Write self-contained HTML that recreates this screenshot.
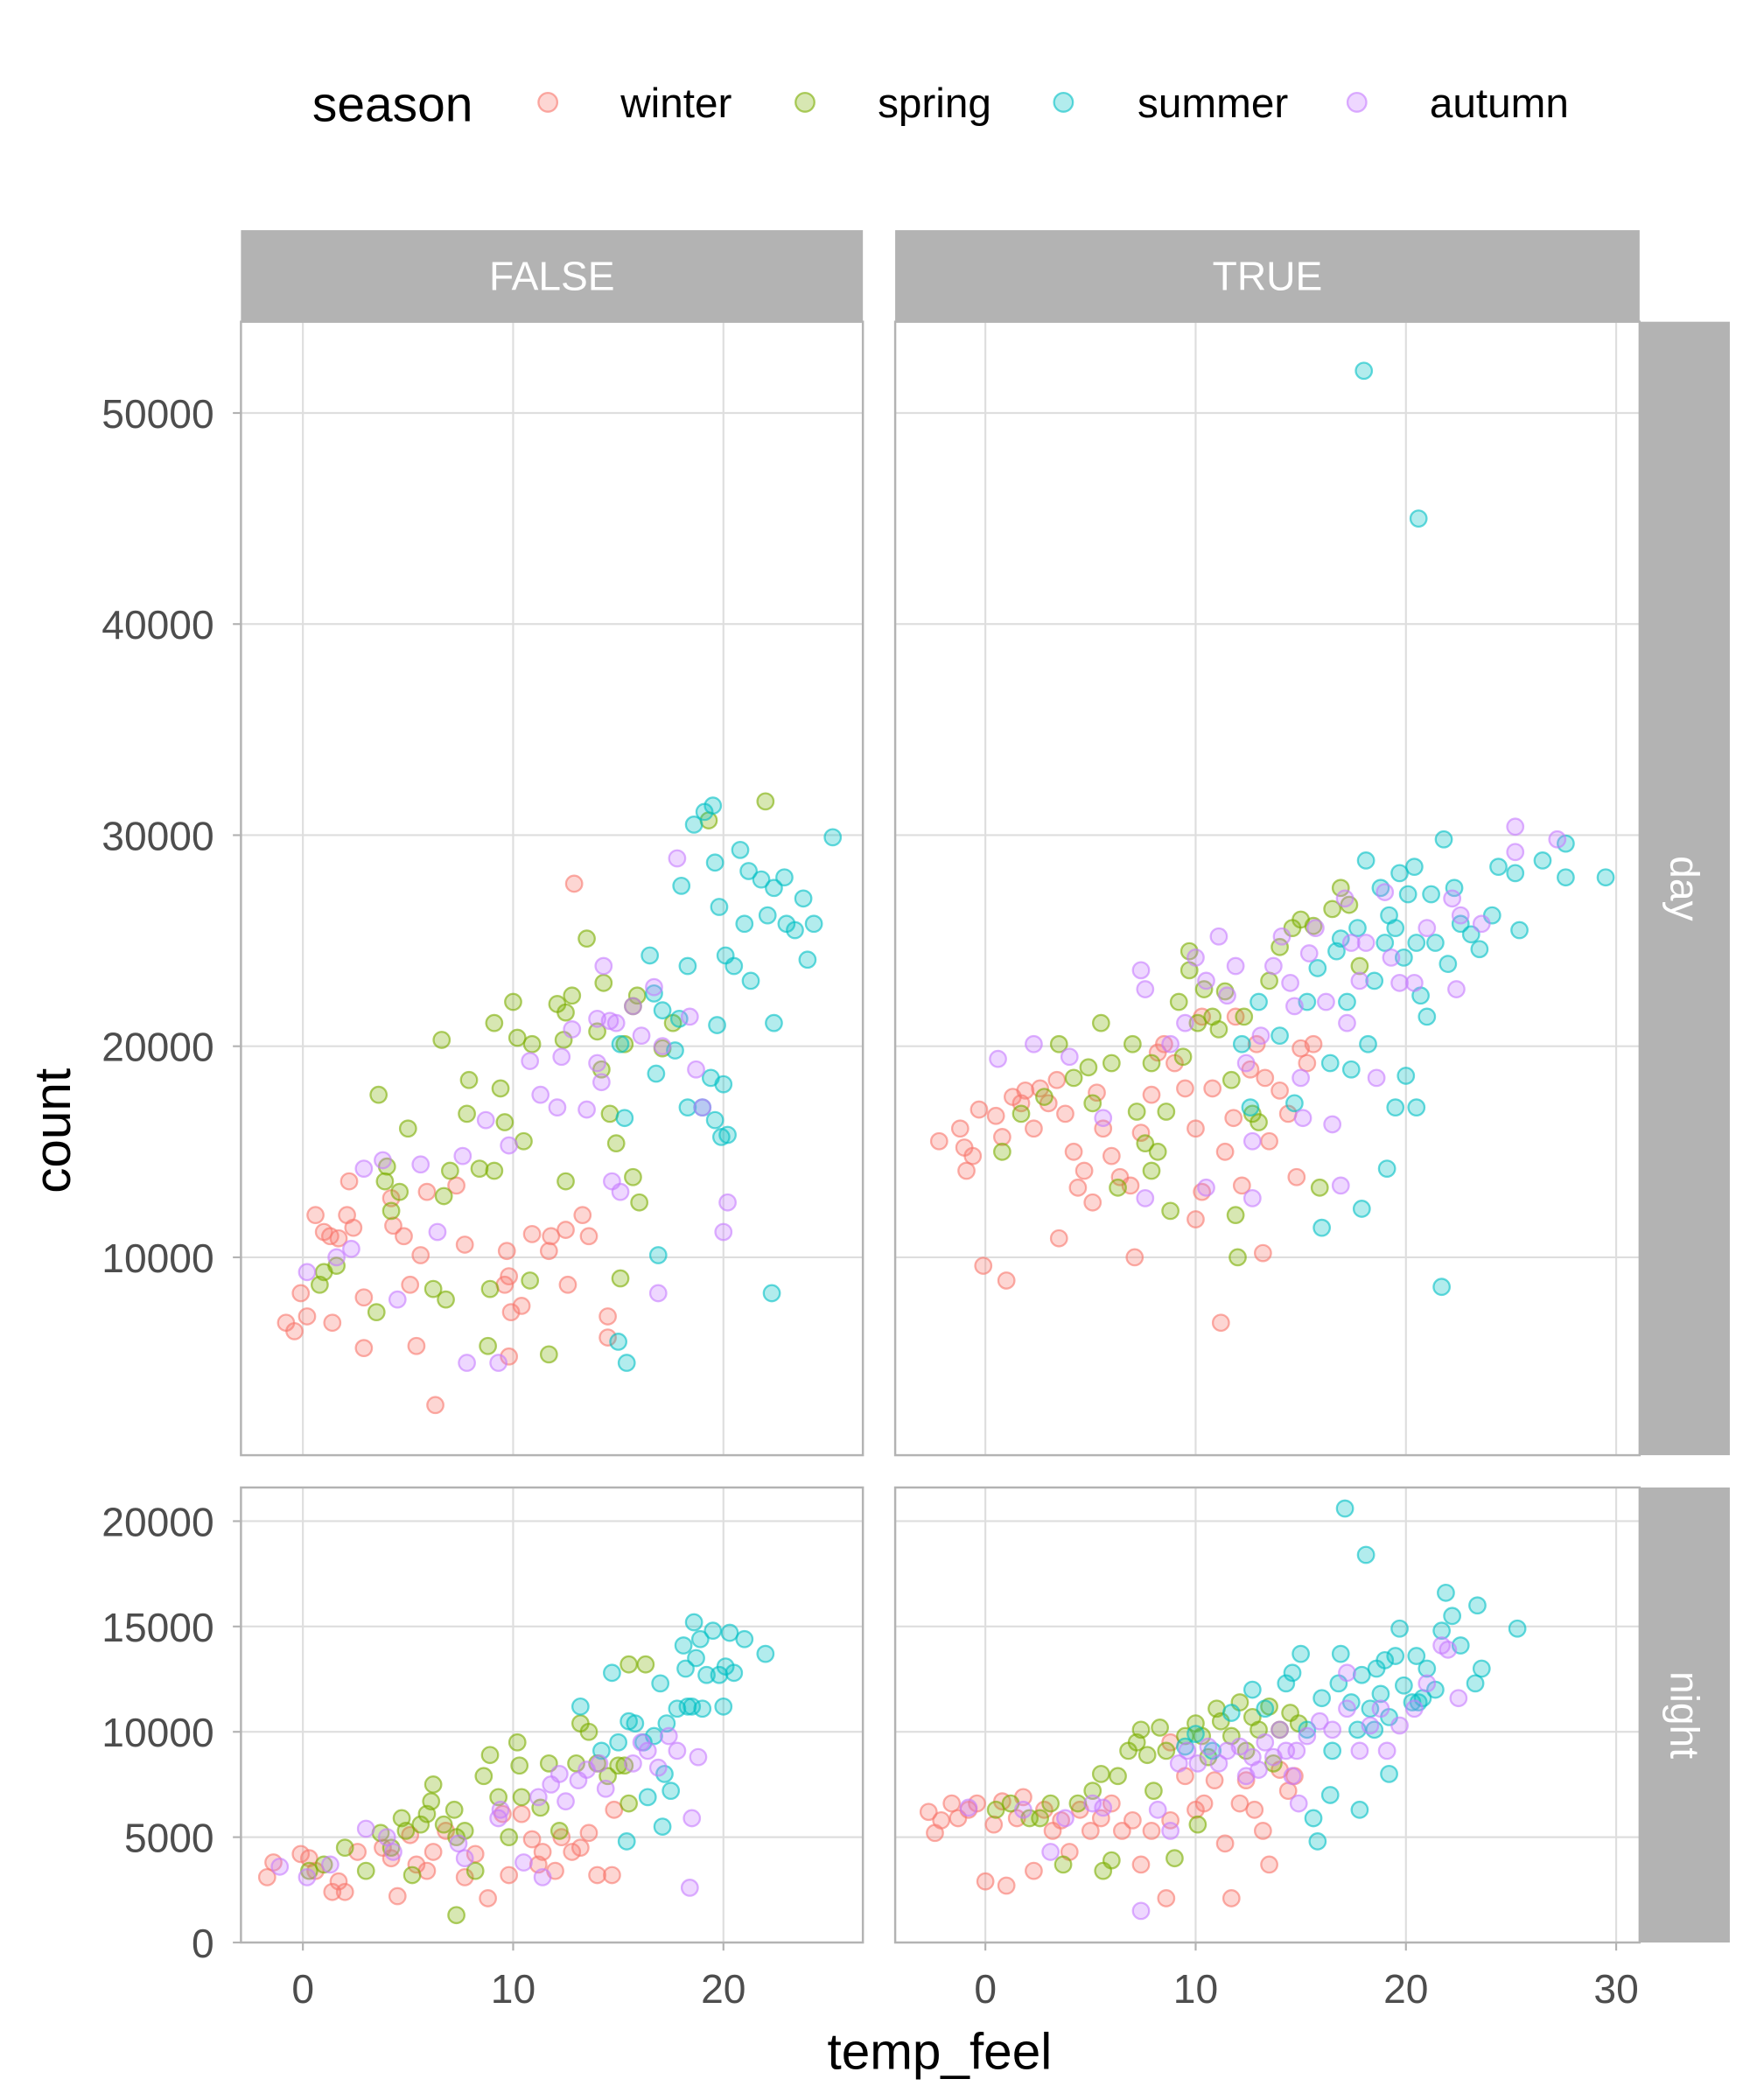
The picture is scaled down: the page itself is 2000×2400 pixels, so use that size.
<!DOCTYPE html>
<html><head><meta charset="utf-8">
<style>
html,body{margin:0;padding:0;background:#fff;}
svg{display:block;font-family:"Liberation Sans Narrow","Liberation Sans",sans-serif;}
</style></head>
<body>
<svg id="chart" width="2000" height="2400" viewBox="0 0 1300 1560" xmlns="http://www.w3.org/2000/svg">
<g id="legend">
  <text x="232" y="90" font-size="37" fill="#000">season</text>
</g>
<g id="panels"></g>
<text x="698" y="1537" font-size="38" text-anchor="middle" fill="#000">temp_feel</text>
<text transform="translate(52,840) rotate(-90)" font-size="38" text-anchor="middle" fill="#000">count</text>
</svg>
<script>
const seasons = ["winter","spring","summer","autumn"];
const seasonColors = ["#F8766D","#7CAE00","#00BFC4","#C77CFF"];
const xTicks = [0,10,20,30];
const dayYTicks = [10000,20000,30000,40000,50000];
const nightYTicks = [0,5000,10000,15000,20000];

// FALSE / day
const falseDayWinter = [[-0.8,6900],[-0.4,6500],[-0.1,8300],[0.2,7200],[0.6,12000],[1,11200],[1.3,11000],[1.7,10900],[2.1,12000],[2.4,11400],[2.2,13600],[1.4,6900],[2.9,8100],[2.9,5700],[4.2,12800],[4.3,11500],[4.8,11000],[5.1,8700],[5.4,5800],[5.9,13100],[5.6,10100],[6.3,3000],[7.3,13400],[7.7,10600],[9.6,8700],[9.7,10300],[9.9,7400],[10.4,7700],[10.9,11100],[11.7,10300],[11.8,11000],[12.5,11300],[12.6,8700],[12.9,27700],[13.3,12000],[13.6,11000],[14.5,7200],[14.5,6200],[9.8,5300],[9.8,9100]];
const falseDaySpring = [[1,9300],[0.8,8700],[1.6,9600],[3.6,17700],[4,14300],[3.9,13600],[4.2,12200],[4.6,13100],[5,16100],[3.5,7400],[6.6,20300],[6.7,12900],[7,14100],[6.8,8000],[6.2,8500],[7.9,18400],[7.8,16800],[8.4,14200],[8.9,8500],[9.1,14100],[8.8,5800],[9.1,21100],[9.4,18000],[9.6,16400],[10,22100],[10.2,20400],[10.5,15500],[10.9,20100],[10.8,8900],[11.7,5400],[12.1,22000],[12.4,20300],[12.5,21600],[12.8,22400],[12.5,13600],[13.5,25100],[14,20700],[14.3,23000],[14.6,16800],[14.9,15400],[15.1,9000],[15.3,20100],[15.7,21900],[15.9,22400],[15.7,13800],[16,12600],[17.1,19900],[17.6,21100],[19.3,30700],[22,31600],[14.2,18900]];
const falseDaySummer = [[15,6000],[15.4,5000],[15.3,16600],[15.1,20100],[16.5,24300],[16.7,22500],[16.9,10100],[16.8,18700],[17.1,21700],[17.7,19800],[17.9,21300],[18,27600],[18.3,23800],[18.6,30500],[19.1,31100],[19.5,31400],[19.6,28700],[19.8,26600],[19.7,21000],[19.4,18500],[19,17100],[18.3,17100],[19.6,16500],[19.9,15700],[20.2,15800],[20,18200],[20.1,24300],[20.5,23800],[20.8,29300],[21,25800],[21.2,28300],[21.8,27900],[22.1,26200],[22.4,21100],[22.4,27500],[22.9,28000],[23,25800],[23.4,25500],[23.8,27000],[24,24100],[24.3,25800],[21.3,23100],[25.2,29900],[22.3,8300]];
const falseDayAutumn = [[0.2,9300],[1.6,10000],[2.3,10400],[2.9,14200],[3.8,14600],[4.5,8000],[5.6,14400],[6.4,11200],[7.6,14800],[7.8,5000],[8.7,16500],[9.3,5000],[9.8,15300],[10.8,19300],[11.3,17700],[12.1,17100],[12.3,19500],[12.8,20800],[13.5,17000],[14,21300],[14,19200],[14.2,18300],[14.3,23800],[14.6,21200],[14.7,13600],[15.1,13100],[15.7,21900],[16.1,20500],[16.7,22800],[17.1,20000],[16.9,8300],[17.8,28900],[18.4,21400],[18.7,18900],[19,17100],[20,11200],[20.2,12600],[14.9,21100]];

// TRUE / day
const trueDayWinter = [[-2.2,15500],[-1.2,16100],[-1,15200],[-0.9,14100],[-0.6,14800],[-0.3,17000],[-0.1,9600],[1,8900],[0.5,16700],[0.8,15700],[1.3,17600],[1.7,17300],[1.9,17900],[2.3,16100],[2.6,18000],[3,17300],[3.4,18400],[3.5,10900],[3.8,16800],[4.2,15000],[4.4,13300],[4.7,14100],[5.1,12600],[5.3,17800],[5.6,16100],[6,14800],[6.4,13800],[6.9,13400],[7.1,10000],[7.4,15900],[7.9,17700],[8.2,19700],[8.5,20100],[9,19200],[9.5,18000],[10,16100],[10.3,13100],[10,11800],[10.8,18000],[11.2,6900],[11.4,15000],[11.8,16600],[12.2,13400],[12.6,18900],[12.9,20100],[13.2,10200],[13.5,15500],[14,17900],[14.4,16800],[14.8,13800],[15,19900],[15.3,19200],[15.6,20100],[13.3,18500],[10.3,21400],[11.9,21400]];
const trueDaySpring = [[0.8,15000],[1.7,16800],[2.8,17600],[3.5,20100],[4.2,18500],[4.9,19000],[5.1,17300],[5.5,21100],[6,19200],[6.3,13300],[7,20100],[7.2,16900],[7.6,15400],[7.9,14100],[8.2,15000],[8.6,16900],[8.8,12200],[9.2,22100],[9.4,19500],[9.7,23600],[10.1,21100],[10.4,22700],[10.8,21400],[11.1,20800],[11.4,22600],[11.7,18400],[11.9,12000],[12,10000],[12.7,16800],[13,16400],[13.5,23100],[14,24700],[14.6,25600],[15,26000],[15.6,25700],[15.9,13300],[16.5,26500],[16.9,27500],[17.3,26700],[17.8,23800],[9.7,24500],[12.3,21400],[7.9,19200]];
const trueDaySummer = [[18,52000],[20.6,45000],[12.2,20100],[12.6,17100],[13,22100],[14,20500],[14.7,17300],[15.3,22100],[15.8,23700],[16,11400],[16.4,19200],[16.7,24500],[16.9,25100],[17.2,22100],[17.4,18900],[17.7,25600],[17.9,12300],[18.1,28800],[18.5,23100],[18.8,27500],[19,24900],[19.1,14200],[19.2,26200],[19.5,17100],[19.7,28200],[20,18600],[20.1,27200],[20.4,28500],[20.5,24900],[20.7,22400],[20.5,17100],[21,21400],[21.2,27200],[21.4,24900],[21.7,8600],[21.8,29800],[22,23900],[22.3,27500],[22.6,25800],[23.1,25300],[23.5,24600],[24.1,26200],[24.4,28500],[25.2,28200],[25.4,25500],[26.5,28800],[27.6,29600],[27.6,28000],[29.5,28000],[18.2,20100],[19.9,24200],[19.5,25600]];
const trueDayAutumn = [[0.6,19400],[2.3,20100],[4,19500],[5.6,16600],[7.4,23600],[7.6,22700],[8.8,20100],[9.5,21100],[10,24200],[10.5,23100],[11.1,25200],[11.5,22400],[11.9,23800],[12.4,19200],[12.7,12800],[13.1,20500],[13.7,23800],[14.1,25200],[14.5,23000],[14.7,21900],[15,18500],[15.1,16600],[15.4,24400],[15.7,25600],[16.2,22100],[16.5,16300],[16.9,13400],[17.1,27000],[17.4,24900],[17.8,23100],[18.1,24900],[18.6,18500],[19,27300],[19.3,24200],[19.7,23000],[20.4,23000],[21,25600],[22.2,27000],[22.6,26200],[23.6,25800],[25.2,30400],[25.2,29200],[27.2,29800],[7.6,12800],[10.5,13300],[12.7,15500],[22.4,22700],[17.2,21100]];

// FALSE / night
const falseNightWinter = [[-1.7,3100],[-1.4,3800],[-0.1,4200],[0.3,4000],[0.6,3400],[1.4,2400],[1.7,2900],[2,2400],[2.6,4300],[3.8,4500],[4.2,4000],[4.5,2200],[5.1,5100],[5.4,3700],[5.9,3400],[6.2,4300],[6.8,5300],[7.7,3100],[8.2,4200],[8.8,2100],[9.5,6100],[9.8,3200],[10.4,6100],[10.9,4900],[11.2,3700],[11.4,4300],[12,3400],[12.3,5000],[12.8,4300],[13.2,4500],[13.6,5200],[14,3200],[14.7,3200],[14.8,6300]];
const falseNightSpring = [[0.3,3400],[1,3700],[2,4500],[3,3400],[3.7,5200],[4.2,4500],[4.7,5900],[4.9,5300],[5.2,3200],[5.6,5600],[5.9,6100],[6.1,6700],[6.2,7500],[6.7,5600],[7.2,6300],[7.3,1300],[7.3,5000],[7.7,5300],[8.2,3400],[8.6,7900],[8.9,8900],[9.3,6900],[9.8,5000],[10.2,9500],[10.3,8400],[10.4,6900],[11.3,6400],[11.7,8500],[12.2,5300],[13,8500],[13.2,10400],[13.6,10000],[14,8500],[14.5,7900],[15,8400],[15.3,8400],[15.5,13200],[16.3,13200],[15.5,6600]];
const falseNightSummer = [[13.2,11200],[14.2,9100],[14.7,12800],[15,9500],[15.5,10500],[15.4,4800],[15.8,10400],[16.2,9500],[16.4,6900],[16.7,9800],[17,12300],[17.1,5500],[17.2,8000],[17.3,10400],[17.5,7200],[17.8,11100],[18.1,14100],[18.2,13000],[18.3,11200],[18.6,15200],[18.7,13500],[18.9,14400],[19,11100],[19.2,12700],[19.5,14800],[19.8,12700],[20,11200],[20.1,13100],[20.3,14700],[20.5,12800],[21,14400],[22,13700],[18.5,11200]];
const falseNightAutumn = [[-1.1,3600],[0.2,3100],[1.3,3700],[3,5400],[4,5000],[4.3,4300],[7.4,4700],[7.7,4000],[9.3,5900],[9.4,6300],[10.5,3800],[11.2,6900],[11.4,3100],[11.8,7500],[12.2,8000],[12.5,6700],[13.1,7700],[13.5,8200],[14.1,8500],[14.4,7300],[15.7,8500],[16.1,9500],[16.4,9100],[16.9,8300],[17.4,9800],[17.8,9100],[18.4,2600],[18.5,5900],[18.8,8800]];

// TRUE / night
const trueNightWinter = [[-2.7,6200],[-2.4,5200],[-2.1,5800],[-1.6,6600],[-1.3,5900],[-0.8,6300],[-0.4,6600],[0,2900],[0.4,5600],[0.8,6700],[1,2700],[1.5,5900],[1.8,6900],[2.3,3400],[2.8,6300],[3.2,5300],[3.6,5800],[4,4300],[4.5,6300],[5,5300],[5.5,5900],[6,6600],[6.5,5300],[7,5800],[7.4,3700],[7.9,5300],[8.6,2100],[8.8,5800],[9.5,7900],[10,6300],[10.4,6600],[10.9,7700],[11.4,4700],[11.7,2100],[12.1,6600],[12.4,7700],[12.8,6300],[13.2,5300],[13.5,3700],[14,8200],[14.4,7200],[14.7,7900],[8.8,9500]];
const trueNightSpring = [[0.5,6300],[1.2,6600],[2.1,5900],[2.6,5900],[3.1,6600],[3.7,3700],[4.4,6600],[5.1,7200],[5.5,8000],[5.6,3400],[6,3900],[6.3,7900],[6.8,9100],[7.2,9500],[7.4,10100],[7.7,8900],[8,7200],[8.3,10200],[8.6,9100],[9,4000],[9.5,9800],[10,10400],[10.3,9800],[10.6,8800],[11,11100],[11.2,10500],[11.7,9800],[12.1,11400],[12.4,9100],[12.7,10700],[13,10100],[13.5,11200],[14,10100],[14.5,10900],[14.9,10400],[13.7,8500],[10.1,5600]];
const trueNightSummer = [[9.5,9300],[10,9900],[10.8,9100],[11.7,10900],[12.7,12000],[13.3,11100],[14.3,12300],[14.6,12800],[15,13700],[15.3,10100],[15.6,5900],[15.8,4800],[16,11600],[16.4,7000],[16.5,9100],[16.8,12300],[16.9,13700],[17.1,20600],[17.4,11400],[17.7,10100],[17.8,6300],[17.9,12700],[18.1,18400],[18.3,11100],[18.6,13000],[18.8,11800],[19,13400],[19.2,10700],[19.2,8000],[19.5,13600],[19.7,14900],[19.9,12200],[20.3,11400],[20.5,13600],[20.8,11600],[21,13000],[21.4,12000],[21.7,14800],[21.9,16600],[22.2,15500],[22.6,14100],[23.3,12300],[23.4,16000],[23.6,13000],[25.3,14900],[20.6,11400],[18.5,10100]];
const trueNightAutumn = [[-0.8,6400],[1.8,6300],[3.1,4300],[3.8,5900],[5.1,6600],[5.6,6400],[7.4,1500],[8.2,6300],[8.8,5300],[9.2,8500],[9.6,9100],[10.1,8500],[10.6,9300],[11.1,8500],[11.5,9100],[12.1,9300],[12.4,7900],[12.7,8800],[13,8200],[13.3,9500],[13.7,8800],[14,10100],[14.3,9100],[14.6,7900],[14.9,6600],[15.3,9800],[15.9,10500],[16.5,10100],[17.2,11100],[17.8,9100],[18.3,10300],[18.8,11100],[19.1,9100],[19.7,10300],[20.4,11100],[21,12300],[21.7,14100],[22,13900],[22.5,11600],[17.2,12800],[14.8,9100]];

const NS = "http://www.w3.org/2000/svg";
function mk(tag, attrs, parent){ const e=document.createElementNS(NS,tag); for(const k in attrs) e.setAttribute(k,attrs[k]); parent.appendChild(e); return e; }

const svg = document.getElementById('chart');
const legend = document.getElementById('legend');
const legendX = [[407,461],[598,652],[790,845],[1008,1062]];
seasons.forEach((s,i)=>{
  const c = mk('circle',{cx:legendX[i][0],cy:76,r:7,fill:seasonColors[i],'fill-opacity':0.3,stroke:seasonColors[i],'stroke-opacity':0.6,'stroke-width':1.5},legend);
  
  
  const t = mk('text',{x:legendX[i][1],y:87,'font-size':31,fill:'#000'},legend);
  t.textContent = s;
  
  
});

// scales
const colX0 = {F:225, T:732};
const pxPerDeg = 15.62;
const rowY = {day:{y0:934, v0:10000, k:15.68/1000}, night:{y0:1443, v0:0, k:15.65/1000}};
function xScale(col, t){ return colX0[col] + t*pxPerDeg; }
function yScale(row, c){ const r=rowY[row]; return r.y0 - (c - r.v0)*r.k; }

const panelsG = document.getElementById('panels');
const panels = [
  {col:'F', row:'day', x:179, w:462, y:239, h:842, data:[falseDayWinter,falseDaySpring,falseDaySummer,falseDayAutumn], xt:[0,10,20]},
  {col:'T', row:'day', x:665, w:553, y:239, h:842, data:[trueDayWinter,trueDaySpring,trueDaySummer,trueDayAutumn], xt:xTicks},
  {col:'F', row:'night', x:179, w:462, y:1105, h:338, data:[falseNightWinter,falseNightSpring,falseNightSummer,falseNightAutumn], xt:[0,10,20]},
  {col:'T', row:'night', x:665, w:553, y:1105, h:338, data:[trueNightWinter,trueNightSpring,trueNightSummer,trueNightAutumn], xt:xTicks}
];
panels.forEach(p=>{
  const g = mk('g',{},panelsG);
  
  
  const yt = p.row==='day'?dayYTicks:nightYTicks;
  p.xt.forEach(t=>{ const x=xScale(p.col,t); const l=mk('line',{x1:x,x2:x,y1:p.y,y2:p.y+p.h,stroke:'#dedede','stroke-width':1.4},g);
      });
  yt.forEach(v=>{ const y=yScale(p.row,v); const l=mk('line',{x1:p.x,x2:p.x+p.w,y1:y,y2:y,stroke:'#dedede','stroke-width':1.4},g);
      });
  p.data.forEach((arr,si)=>{
    arr.forEach(d=>{
      const c = mk('circle',{cx:xScale(p.col,d[0]),cy:yScale(p.row,d[1]),r:6,fill:seasonColors[si],'fill-opacity':0.3,stroke:seasonColors[si],'stroke-opacity':0.6,'stroke-width':1.5},g);
      
      
    });
  });
  const b = mk('rect',{x:p.x,y:p.y,width:p.w,height:p.h,fill:'none',stroke:'#b3b3b3','stroke-width':1.6},g);
   
  if(p.col==='F'){
    yt.forEach(v=>{ const y=yScale(p.row,v);
      const tk=mk('line',{x1:p.x-6,x2:p.x,y1:y,y2:y,stroke:'#b3b3b3','stroke-width':1.4},g);
       
      const t=mk('text',{x:p.x-20,y:y+11,'font-size':30,'text-anchor':'end',fill:'#4d4d4d'},g);
      t.textContent=v;   });
  }
  if(p.row==='night'){
    p.xt.forEach(v=>{ const x=xScale(p.col,v);
      const tk=mk('line',{x1:x,x2:x,y1:p.y+p.h,y2:p.y+p.h+6,stroke:'#b3b3b3','stroke-width':1.4},g);
       
      const t=mk('text',{x:x,y:1488,'font-size':30,'text-anchor':'middle',fill:'#4d4d4d'},g);
      t.textContent=v;   });
  }
});
// strips
const strips = [
  {x:179,y:171,w:462,h:68,label:'FALSE',rot:false},
  {x:665,y:171,w:553,h:68,label:'TRUE',rot:false},
  {x:1218,y:239,w:67,h:842,label:'day',rot:true},
  {x:1218,y:1105,w:67,h:338,label:'night',rot:true}
];
strips.forEach(s=>{
  const r=mk('rect',{x:s.x,y:s.y,width:s.w,height:s.h,fill:'#b3b3b3'},svg);
  
  
  const cx=s.x+s.w/2, cy=s.y+s.h/2;
  const t=mk('text',{x:cx,y:cy,'font-size':30,'text-anchor':'middle','dominant-baseline':'central',fill:'#fff'},svg);
  if(s.rot) t.setAttribute('transform','rotate(90 '+cx+' '+cy+')');
  t.textContent=s.label;
  
  
});
</script>
</body></html>
